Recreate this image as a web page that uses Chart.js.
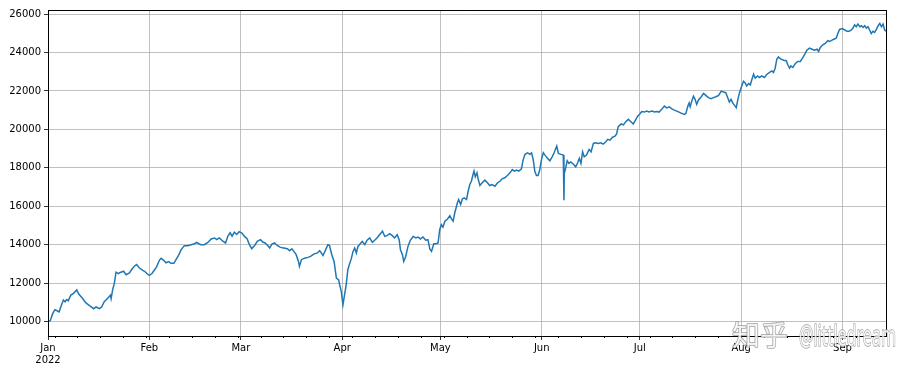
<!DOCTYPE html>
<html>
<head>
<meta charset="utf-8">
<script src="https://cdn.jsdelivr.net/npm/chart.js@4.4.0/dist/chart.umd.min.js"></script>
<style>
  body { margin: 0; background: #fff; }
  #chart { display: block; }
</style>
</head>
<body>
<canvas id="chart" width="921" height="371"></canvas>
<script>
// days since 2022-01-01 and the value
const days = [
    0, 0.7, 1.4, 2.1, 2.9, 3.4, 3.9, 4.7, 5.2, 5.7, 6.2, 7.0, 7.8, 8.8, 9.4, 10.6, 11.6, 12.9, 14.0, 14.7,
    15.7, 16.4, 17.2, 18.2, 19.1, 19.3, 19.8, 20.3, 20.8, 21.5, 22.3, 23.1, 23.9, 24.9, 25.6, 26.4, 27.1, 27.9, 29.0, 29.8, 30.2,
    31.0, 31.8, 32.5, 33.2, 34.1, 34.6, 35.3, 36.1, 36.9, 37.6, 38.5, 39.2, 40.0, 40.7, 41.7, 42.7, 43.8, 44.8, 45.5, 46.1,
    46.8, 47.8, 48.9, 49.9, 50.9, 51.6, 52.4, 53.5, 54.3, 55.0, 55.7, 56.3, 57.0, 57.7, 58.5,
    59.3, 60.1, 60.9, 61.6, 62.3, 63.2, 64.0, 65.0, 65.7, 66.4, 67.2, 67.8, 68.5, 69.3, 70.1, 71.1, 72.1, 73.2, 73.9, 74.6,
    75.2, 75.9, 76.6, 76.9, 77.5, 78.5, 79.5, 80.3, 81.3, 82.4, 83.1, 84.1, 84.8, 85.6, 86.1, 86.8, 87.5, 88.2, 88.9, 89.2, 89.7,
    90.2, 90.7, 91.2, 91.7, 92.3, 92.8, 93.3, 93.8, 94.3, 94.8, 95.5, 96.1, 96.9, 97.6, 98.4, 99.2, 99.9, 100.6, 101.4, 102.3,
    103.0, 103.7, 104.5, 105.3, 106.0, 106.8, 107.4, 107.8, 108.4, 108.8, 109.4, 110.1, 110.8, 111.7, 112.5, 113.2, 113.9, 114.7, 115.5, 116.2,
    116.8, 117.3, 118.0, 118.8, 119.3,
    119.8, 120.3, 120.8, 121.4, 122.2, 122.9, 123.4, 123.9, 124.4, 125.2, 125.6, 126.2, 126.7, 127.3, 128.0, 128.5, 129.0, 129.5, 130.0, 130.3,
    130.7, 131.2, 131.6, 132.1, 132.8, 133.6, 134.4, 135.1, 135.8, 136.7, 137.5, 138.2, 138.9, 139.7, 140.5, 141.3, 142.0, 142.6, 143.3, 144.0,
    144.8, 145.3, 145.9, 146.7, 147.4, 147.9, 148.4, 148.9, 149.4, 149.9, 150.4,
    151.0, 151.5, 152.0, 152.8, 153.5, 154.2, 154.8, 155.6, 156.1, 156.9, 157.6, 157.8, 157.9, 158.3, 158.8, 159.3, 159.9, 160.7, 161.4, 162.0,
    162.5, 163.0, 163.5, 164.0, 164.7, 165.5, 166.1, 166.8, 167.5, 168.3, 169.1, 169.8, 170.6, 171.2, 171.9, 172.6, 173.4, 173.9, 174.4, 175.3,
    176.0, 176.7, 177.5, 178.3, 179.0, 179.8, 180.4,
    181.0, 181.6, 182.4, 183.1, 183.8, 184.7, 185.5, 186.2, 186.9, 187.7, 188.5, 189.2, 190.0, 190.8, 191.6, 192.3, 193.0, 193.8, 194.7, 195.1,
    195.7, 196.1, 196.4, 196.9, 197.4, 197.9, 198.4, 198.9, 199.8, 200.5, 201.2, 202.0, 202.8, 203.5, 204.3, 205.1, 205.9, 206.6, 207.3, 207.9,
    208.4, 208.9, 209.5, 210.0, 210.5, 211.0, 211.5, 212.0,
    212.7, 213.2, 213.7, 214.3, 214.8, 215.3, 215.8, 216.3, 217.0, 217.6, 218.3, 219.1, 219.9, 220.7, 221.4, 221.9, 222.4, 222.9, 223.4, 224.2,
    225.0, 225.8, 226.2, 226.8, 227.2, 227.8, 228.6, 229.3, 230.1, 230.9, 231.6, 232.1, 232.9, 233.7, 234.4, 235.2, 235.7, 236.2, 237.0, 237.7,
    238.5, 239.1, 239.8, 240.5, 241.1, 241.6, 242.1, 242.9,
    243.7, 244.4, 245.0, 245.7, 246.2, 246.7, 247.2, 247.7, 248.3, 248.8, 249.3, 249.8, 250.3, 250.8, 251.3, 251.8, 252.3, 252.8, 253.4, 253.9,
    254.4, 254.9, 255.4, 255.9, 256.3
];

const values = [
    10000, 10050, 10400, 10620, 10550, 10500, 10760, 11120, 11030, 11150, 11080, 11380, 11470, 11650, 11430, 11200, 10970, 10800, 10670, 10760,
    10670, 10760, 11030, 11200, 11380, 11200, 11680, 12000, 12570, 12500, 12570, 12620, 12440, 12530, 12710, 12880, 12970, 12800, 12670, 12580, 12500,
    12410, 12500, 12670, 12850, 13200, 13290, 13200, 13060, 13120, 13030, 13030, 13240, 13470, 13730, 13950, 13950, 14000, 14050, 14120, 14050,
    14000, 14000, 14120, 14300, 14350, 14270, 14350, 14180, 14090, 14440, 14620, 14440, 14650, 14530, 14680,
    14610, 14430, 14310, 14000, 13790, 13960, 14170, 14260, 14140, 14090, 13960, 13830, 14030, 14090, 13960, 13860, 13830, 13790, 13690, 13790,
    13650, 13480, 13130, 12870, 13220, 13300, 13340, 13390, 13510, 13570, 13690, 13440, 13690, 14000, 13960, 13480, 13130, 12260, 12170, 11910, 11570,
    10870, 11390, 11910, 12700, 13040, 13300, 13650, 13830, 13570, 13910, 14050, 14170, 14000, 14230, 14350, 14120, 14230, 14350, 14520, 14700,
    14430, 14470, 14570, 14470, 14350, 14520, 14260, 13740, 13480, 13130, 13390, 13910, 14230, 14430, 14350, 14400, 14300, 14400, 14230, 14260,
    13770, 13650, 14050, 14050, 14090,
    14780, 15040, 14920, 15220, 15340, 15510, 15340, 15220, 15650, 16170, 16350, 16090, 16380, 16430, 16350, 16780, 17130, 17300, 17650, 17830,
    17530, 17740, 17390, 17080, 17220, 17360, 17220, 17080, 17130, 17040, 17220, 17300, 17430, 17480, 17600, 17740, 17910, 17830, 17880, 17830,
    17950, 18400, 18700, 18780, 18700, 18780, 18430, 17800, 17600, 17600, 17900,
    18490, 18780, 18660, 18490, 18370, 18570, 18780, 19130, 18750, 18700, 18660, 16310, 17700, 17970, 18370, 18230, 18310, 18190, 18050, 18260,
    18490, 18230, 18830, 18570, 18660, 18960, 18830, 19270, 19300, 19270, 19300, 19230, 19360, 19480, 19440, 19580, 19650, 19760, 20140, 20280,
    20230, 20400, 20520, 20400, 20280, 20520, 20700,
    20800, 20930, 20900, 20950, 20910, 20950, 20900, 20930, 20900, 21040, 21210, 21120, 21170, 21070, 21000, 20950, 20900, 20830, 20780, 20830,
    21210, 21380, 21170, 21470, 21730, 21560, 21300, 21520, 21700, 21870, 21770, 21650, 21600, 21650, 21700, 21770, 21990, 21940, 21910, 21650,
    21420, 21560, 21350, 21250, 21130, 21560, 21910, 22170,
    22500, 22430, 22260, 22380, 22310, 22610, 22870, 22660, 22780, 22700, 22780, 22700, 22870, 22960, 23040, 22960, 23180, 23650, 23770, 23650,
    23600, 23570, 23390, 23180, 23300, 23220, 23430, 23530, 23530, 23740, 23950, 24120, 24230, 24170, 24120, 24170, 24050, 24260, 24400, 24470,
    24610, 24570, 24640, 24700, 24750, 25000, 25200, 25240,
    25170, 25100, 25100, 25170, 25270, 25440, 25340, 25480, 25340, 25390, 25300, 25390, 25270, 25340, 25170, 24990, 25100, 25040, 25220, 25390,
    25510, 25340, 25480, 25170, 25100
];

// month starts (days since Jan 1) and their labels
const monthStarts = [0, 31, 59, 90, 120, 151, 181, 212, 243];
const monthLabels = [['Jan', '2022'], 'Feb', 'Mar', 'Apr', 'May', 'Jun', 'Jul', 'Aug', 'Sep'];
// weekly minor ticks (Mondays)
const weekTicks = [2, 9, 16, 23, 30, 37, 44, 51, 58, 65, 72, 79, 86, 93, 100, 107, 114, 121, 128, 135, 142, 149,
    156, 163, 170, 177, 184, 191, 198, 205, 212, 219, 226, 233, 240, 247, 254];
const yTicks = [10000, 12000, 14000, 16000, 18000, 20000, 22000, 24000, 26000];

const tickFont = { family: 'DejaVu Sans', size: 10 };

// frame, minor ticks and the watermark
const extras = {
    id: 'extras',
    afterDraw(chart) {
        const { ctx, chartArea: a, scales } = chart;
        ctx.save();
        ctx.strokeStyle = '#000';
        ctx.lineWidth = 1;
        ctx.strokeRect(Math.round(a.left) + 0.5, Math.round(a.top) + 0.5,
            Math.round(a.right - a.left), Math.round(a.bottom - a.top));

        ctx.beginPath();
        weekTicks.forEach(d => {
            const x = Math.round(scales.x.getPixelForValue(d)) + 0.5;
            ctx.moveTo(x, a.bottom);
            ctx.lineTo(x, a.bottom + 2);
        });
        ctx.stroke();

        ctx.globalAlpha = 0.8;
        ctx.fillStyle = '#fff';
        ctx.strokeStyle = '#8a8a8a';
        ctx.lineWidth = 1.4;
        ctx.lineJoin = 'round';
        ctx.textBaseline = 'alphabetic';
        ctx.font = '28px "Noto Sans CJK SC"';
        ctx.strokeText('知乎', 732, 346);
        ctx.fillText('知乎', 732, 346);
        ctx.font = '29px "Noto Sans"';
        ctx.strokeText('@littledream', 799, 346, 97);
        ctx.fillText('@littledream', 799, 346, 97);
        ctx.restore();
    }
};

new Chart(document.getElementById('chart'), {
    type: 'line',
    data: {
        datasets: [{
            data: days.map((d, i) => ({ x: d, y: values[i] })),
            borderColor: '#1f77b4',
            borderWidth: 1.5,
            pointRadius: 0,
            tension: 0,
            fill: false
        }]
    },
    options: {
        responsive: false,
        animation: false,
        layout: { padding: { top: 10, right: 35, left: 0, bottom: 0 } },
        plugins: {
            legend: { display: false },
            tooltip: { enabled: false }
        },
        scales: {
            x: {
                type: 'linear',
                min: days[0],
                max: days[days.length - 1],
                afterBuildTicks: axis => { axis.ticks = monthStarts.map(v => ({ value: v })); },
                afterFit: axis => { axis.height = 35; },
                ticks: {
                    autoSkip: false,
                    maxRotation: 0,
                    padding: 2,
                    color: '#000',
                    font: tickFont,
                    callback: (v, i) => monthLabels[i]
                },
                grid: { color: '#b0b0b0', lineWidth: 0.8, tickLength: 4, tickColor: '#000' },
                border: { color: '#000', width: 1 }
            },
            y: {
                min: 9250,
                max: 26210,
                afterBuildTicks: axis => { axis.ticks = yTicks.map(v => ({ value: v })); },
                afterFit: axis => { axis.width = 48; },
                ticks: {
                    padding: 3,
                    color: '#000',
                    font: tickFont,
                    callback: v => String(v)
                },
                grid: { color: '#b0b0b0', lineWidth: 0.8, tickLength: 4, tickColor: '#000' },
                border: { color: '#000', width: 1 }
            }
        }
    },
    plugins: [extras]
});
</script>
</body>
</html>
